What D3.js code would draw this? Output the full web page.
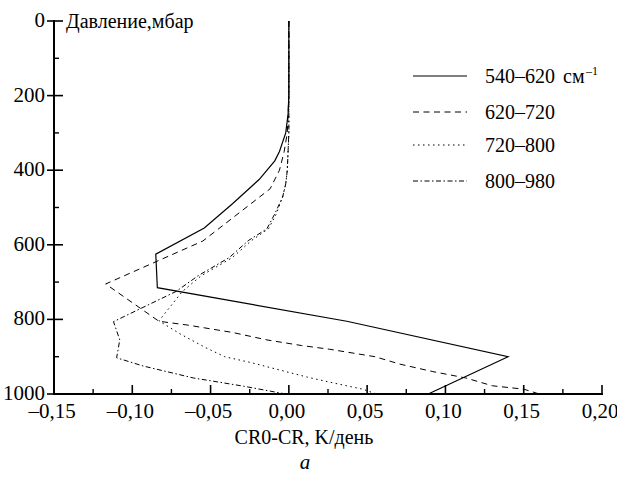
<!DOCTYPE html>
<html><head><meta charset="utf-8">
<script src="https://cdn.jsdelivr.net/npm/d3@7"></script>
</head>
<body style="margin:0">
<svg id="chart" width="617" height="477"></svg>
<script>
// ---- data ----
const seriesNames = ["540–620", "620–720", "720–800", "800–980"];
const pressure540 = [0, 100, 200, 250, 300, 350, 375, 425, 490, 555, 625, 715, 805, 900, 1000];
const value540    = [0.000, 0.000, 0.000, -0.0005, -0.002, -0.006, -0.009, -0.019, -0.036, -0.054, -0.085, -0.084, 0.037, 0.140, 0.089];
const pressure620 = [0, 200, 300, 350, 400, 450, 525, 590, 705, 805, 815, 835, 855, 870, 880, 900, 920, 940, 957, 978, 987, 1000];
const value620    = [0.000, 0.000, -0.001, -0.003, -0.006, -0.012, -0.035, -0.055, -0.117, -0.083, -0.065, -0.036, -0.014, 0.008, 0.026, 0.055, 0.071, 0.092, 0.113, 0.130, 0.150, 0.160];
const pressure720 = [0, 200, 300, 400, 437, 472, 517, 557, 589, 634, 683, 725, 804, 840, 876, 900, 916, 955, 970, 987, 1000];
const value720    = [0.000, 0.000, 0.000, -0.001, -0.002, -0.004, -0.008, -0.013, -0.024, -0.036, -0.056, -0.068, -0.083, -0.069, -0.053, -0.041, -0.024, 0.012, 0.028, 0.047, 0.056];
const pressure800 = [0, 200, 300, 400, 437, 472, 517, 557, 589, 634, 683, 725, 806, 855, 903, 925, 957, 979, 1000];
const value800    = [0.000, 0.000, 0.000, -0.001, -0.002, -0.004, -0.009, -0.014, -0.026, -0.038, -0.058, -0.072, -0.112, -0.108, -0.110, -0.093, -0.061, -0.029, -0.002];
const xTicks = [-0.15, -0.10, -0.05, 0.00, 0.05, 0.10, 0.15, 0.20];
const xMinorTicks = [-0.125, -0.075, -0.025, 0.025, 0.075, 0.125, 0.175];
const yTicks = [0, 200, 400, 600, 800, 1000];
const yMinorTicks = [100, 300, 500, 700, 900];
const yTitle = "Давление,мбар";
const xTitle = "CR0-CR, K/день";
const subLabel = "a";

const FONT = '"Liberation Serif"';

const series = [
  {name: seriesNames[0], p: pressure540, v: value540, dash: null, w: 1.2},
  {name: seriesNames[1], p: pressure620, v: value620, dash: "6,4.5", w: 1},
  {name: seriesNames[2], p: pressure720, v: value720, dash: "1.5,3.5", w: 1},
  {name: seriesNames[3], p: pressure800, v: value800, dash: "5,2.5,1.5,2.5", w: 1}
];

const svg = d3.select("#chart");
const x = d3.scaleLinear().domain([-0.15, 0.20]).range([54, 602]);
const y = d3.scaleLinear().domain([0, 1000]).range([21, 394]);
const fmt = d => (d < 0 ? "–" : "") + Math.abs(d).toFixed(2).replace(".", ",");

// lines
const line = d3.line().x(d => x(d[1])).y(d => y(d[0]));
series.forEach(s => {
  svg.append("path")
    .datum(s.p.map((p, i) => [p, s.v[i]]))
    .attr("d", line)
    .attr("fill", "none")
    .attr("stroke", "#000")
    .attr("stroke-width", s.w)
    .attr("stroke-dasharray", s.dash);
});

// x axis
svg.append("line").attr("x1", 54).attr("x2", 603).attr("y1", 394).attr("y2", 394).attr("stroke", "#000").attr("stroke-width", 2);
svg.selectAll(".xt").data(xTicks).join("line").attr("class", "xt")
  .attr("x1", d => x(d)).attr("x2", d => x(d)).attr("y1", 394).attr("y2", 385)
  .attr("stroke", "#000").attr("stroke-width", 1.6);
svg.selectAll(".xm").data(xMinorTicks).join("line").attr("class", "xm")
  .attr("x1", d => x(d)).attr("x2", d => x(d)).attr("y1", 394).attr("y2", 389)
  .attr("stroke", "#000").attr("stroke-width", 1.4);
svg.selectAll(".xl").data(xTicks).join("text").attr("class", "xl")
  .attr("x", d => x(d) - 2).attr("y", 418)
  .attr("text-anchor", "middle")
  .attr("font-size", 21)
  .style("font-family", FONT)
  .text(fmt);

// y axis
svg.append("line").attr("x1", 54).attr("x2", 54).attr("y1", 20).attr("y2", 395).attr("stroke", "#000").attr("stroke-width", 2);
svg.selectAll(".yt").data(yTicks).join("line").attr("class", "yt")
  .attr("y1", d => y(d)).attr("y2", d => y(d)).attr("x1", 47).attr("x2", 63)
  .attr("stroke", "#000").attr("stroke-width", 1.6);
svg.selectAll(".ym").data(yMinorTicks).join("line").attr("class", "ym")
  .attr("y1", d => y(d)).attr("y2", d => y(d)).attr("x1", 54).attr("x2", 59)
  .attr("stroke", "#000").attr("stroke-width", 1.4);
svg.selectAll(".yl").data(yTicks).join("text").attr("class", "yl")
  .attr("x", 45).attr("y", d => y(d) + 6)
  .attr("text-anchor", "end")
  .attr("font-size", 21)
  .style("font-family", FONT)
  .text(d => d);

const titles = [
  {t: yTitle, x: 66, y: 28, a: "start", s: 20, it: false},
  {t: xTitle, x: 304, y: 444, a: "middle", s: 20, it: false},
  {t: subLabel, x: 305, y: 469, a: "middle", s: 21, it: true}
];
svg.selectAll(".ttl").data(titles).join("text").attr("class", "ttl")
  .attr("x", d => d.x).attr("y", d => d.y).attr("text-anchor", d => d.a)
  .attr("font-size", d => d.s).attr("font-style", d => d.it ? "italic" : null)
  .style("font-family", FONT)
  .text(d => d.t);

// legend
const legY = [76, 112, 145, 181];
svg.selectAll(".lgl").data(series).join("line").attr("class", "lgl")
  .attr("x1", 413).attr("x2", 467).attr("y1", (d, i) => legY[i]).attr("y2", (d, i) => legY[i])
  .attr("stroke", "#000").attr("stroke-width", d => d.w).attr("stroke-dasharray", d => d.dash);
svg.selectAll(".lgt").data(series).join("text").attr("class", "lgt")
  .attr("x", 485).attr("y", (d, i) => legY[i] + 7)
  .attr("font-size", 20)
  .style("font-family", FONT)
  .text(d => d.name);
svg.append("text").attr("x", 563).attr("y", legY[0] + 7).attr("font-size", 20)
  .style("font-family", FONT).text("см");
svg.append("text").attr("x", 586).attr("y", legY[0] - 1).attr("font-size", 12)
  .style("font-family", FONT).text("–1");
</script>
</body></html>
